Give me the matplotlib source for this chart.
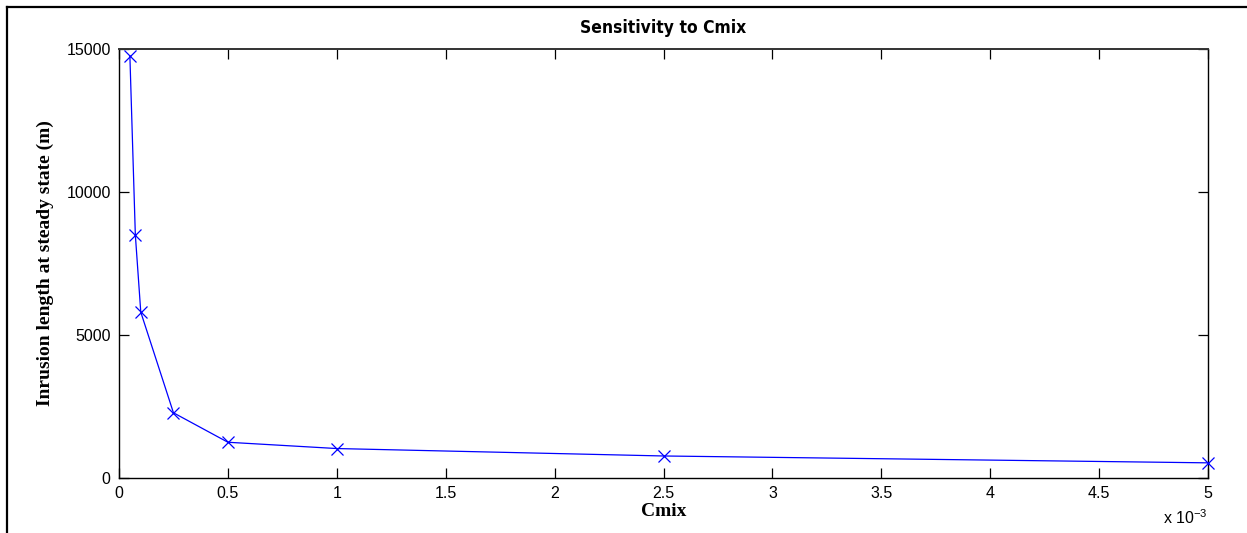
import matplotlib
matplotlib.use("Agg")
import matplotlib.pyplot as plt
from matplotlib.lines import Line2D
from matplotlib.ticker import FuncFormatter, MultipleLocator

# Data
cmix = [0.00005, 0.000075, 0.0001, 0.00025, 0.0005, 0.001, 0.0025, 0.005]
intrusion_length = [14750, 8500, 5800, 2280, 1250, 1030, 770, 530]
x_ticks = [0, 0.0005, 0.001, 0.0015, 0.002, 0.0025, 0.003, 0.0035, 0.004, 0.0045, 0.005]
y_ticks = [0, 5000, 10000, 15000]

W, H, DPI = 1247, 533, 100
fig = plt.figure(figsize=(W / DPI, H / DPI), dpi=DPI)
fig.patch.set_facecolor("white")

l, r, t, b = 119, 1208, 49, 478
ax = fig.add_axes([l / W, 1 - b / H, (r - l) / W, (b - t) / H])

ax.plot(cmix, intrusion_length, color="#0000ff", lw=0.9, marker="x",
        markersize=8, markeredgewidth=0.9, clip_on=False, zorder=3)

ax.set_xlim(0, 0.005)
ax.set_ylim(0, 15000)
ax.set_xticks(x_ticks)
ax.set_yticks(y_ticks)
ax.xaxis.set_major_formatter(FuncFormatter(lambda v, p: "%g" % round(v * 1000, 4)))
ax.yaxis.set_major_formatter(FuncFormatter(lambda v, p: "%d" % v))

tick_font = "Liberation Sans"
ax.tick_params(axis="both", direction="in", length=7, width=0.9, color="black",
               top=True, right=True, labelsize=11.5, pad=6)
for lab in ax.get_xticklabels() + ax.get_yticklabels():
    lab.set_fontfamily(tick_font)
for s in ax.spines.values():
    s.set_linewidth(1.0)
    s.set_color("black")
ax.spines["top"].set_color("#333333")
ax.spines["top"].set_linewidth(1.4)

ax.set_xlabel("Cmix", fontfamily="Liberation Serif", fontweight="bold", fontsize=14)
ax.xaxis.label.set_va("center")
ax.xaxis.set_label_coords(0.5, (b - 512) / (b - t))

ax.set_ylabel("Inrusion length at steady state (m)", fontfamily="Liberation Serif",
              fontweight="bold", fontsize=14)
ax.yaxis.label.set_va("center")
ax.yaxis.set_label_coords((45 - l) / (r - l), 0.5)

fig.text((l + r) / 2 / W, 1 - 28 / H, "Sensitivity to Cmix",
         family=["DejaVu Sans"], fontstretch="condensed", fontweight="bold",
         fontsize=12.5, ha="center", va="center")

ax.text(1.0, (b - 518) / (b - t), r"x 10$^{\mathregular{-3}}$", transform=ax.transAxes,
        ha="right", va="center", fontfamily=tick_font, fontsize=11.5)

# figure frame (top and left edges)
fig.add_artist(Line2D([7 / W, 1.0], [1 - 7 / H, 1 - 7 / H], color="black", lw=1.6,
                      transform=fig.transFigure))
fig.add_artist(Line2D([7 / W, 7 / W], [0, 1 - 7 / H], color="black", lw=1.6,
                      transform=fig.transFigure))

fig.savefig("out.png", dpi=DPI)
